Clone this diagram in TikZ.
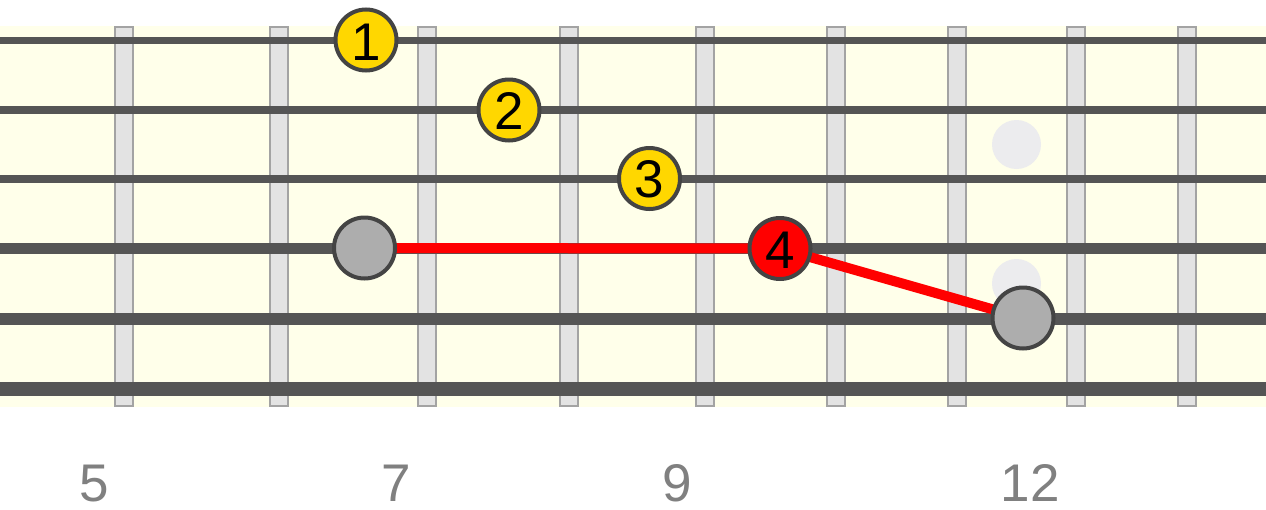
\documentclass[tikz,border=0pt]{standalone}
\usepackage{fontspec}
\setmainfont{Liberation Sans}
\definecolor{boardbg}{HTML}{FFFFEA}
\definecolor{fretfill}{HTML}{E3E3E3}
\definecolor{fretline}{HTML}{A3A3A3}
\definecolor{strcol}{HTML}{555555}
\definecolor{inlaycol}{HTML}{ECECEE}
\definecolor{notey}{HTML}{FFD700}
\definecolor{noter}{HTML}{FF0000}
\definecolor{noteg}{HTML}{ADADAD}
\definecolor{noteborder}{HTML}{444444}
\definecolor{labelcol}{HTML}{808080}
\tikzset{
  fretbar/.style={fill=fretfill,draw=fretline,line width=2pt},
  strline/.style={draw=strcol},
  inlay/.style={fill=inlaycol,draw=none},
  notebase/.style={circle,minimum size=61pt,inner sep=0pt,draw=noteborder,line width=4pt},
  yellownote/.style={notebase,fill=notey},
  rednote/.style={notebase,fill=noter},
  greynote/.style={notebase,fill=noteg},
  digit/.style={anchor=base,inner sep=0pt,font=\fontsize{53}{60}\selectfont},
  fretlabel/.style={anchor=base,inner sep=0pt,text=labelcol,font=\fontsize{53}{60}\selectfont},
  pathline/.style={draw=noter,line width=10pt}
}
\begin{document}
\begin{tikzpicture}[x=1pt,y=-1pt]
\useasboundingbox (0,0) rectangle (1266,509);
\fill[white] (0,0) rectangle (1266,509);
% board
\fill[boardbg] (0,26) rectangle (1266,407);
% frets
\foreach \fx in {124,279,427,568.5,705,836,957,1076,1187}{
  \draw[fretbar] (\fx-9,27) rectangle (\fx+9,406);
}
% inlays
\fill[inlay] (1016.5,144.5) circle (24.5);
\fill[inlay] (1016.5,283.5) circle (24.5);
% strings
\draw[strline,line width=7pt] (0,40.5) -- (1266,40.5);
\draw[strline,line width=7.5pt] (0,110) -- (1266,110);
\draw[strline,line width=8pt] (0,179) -- (1266,179);
\draw[strline,line width=10.5pt] (0,248.5) -- (1266,248.5);
\draw[strline,line width=12pt] (0,319) -- (1266,319);
\draw[strline,line width=14pt] (0,389) -- (1266,389);
% note positions
\coordinate (p1) at (366,40);
\coordinate (p2) at (509,110);
\coordinate (p3) at (649.5,178.5);
\coordinate (p4) at (780,248.5);
\coordinate (pg1) at (364.5,248);
\coordinate (pg2) at (1023,318);
% connector
\draw[pathline] (pg1) -- (p4) -- (pg2);
% notes
\node[yellownote] (n1) at (p1) {};
\node[yellownote] (n2) at (p2) {};
\node[yellownote] (n3) at (p3) {};
\node[rednote] (n4) at (p4) {};
\node[greynote] (g1) at (pg1) {};
\node[greynote] (g2) at (pg2) {};
\node[digit] (d1) at ([yshift=-20pt]n1.center) {1};
\node[digit] (d2) at ([yshift=-19pt]n2.center) {2};
\node[digit] (d3) at ([yshift=-19pt]n3.center) {3};
\node[digit] (d4) at ([yshift=-20pt]n4.center) {4};
% fret numbers
\node[fretlabel] (l5) at (94.5,501) {5};
\node[fretlabel] (l7) at (396,501) {7};
\node[fretlabel] (l9) at (677,501) {9};
\node[fretlabel] (l12) at (1030,501) {12};
\end{tikzpicture}
\end{document}
